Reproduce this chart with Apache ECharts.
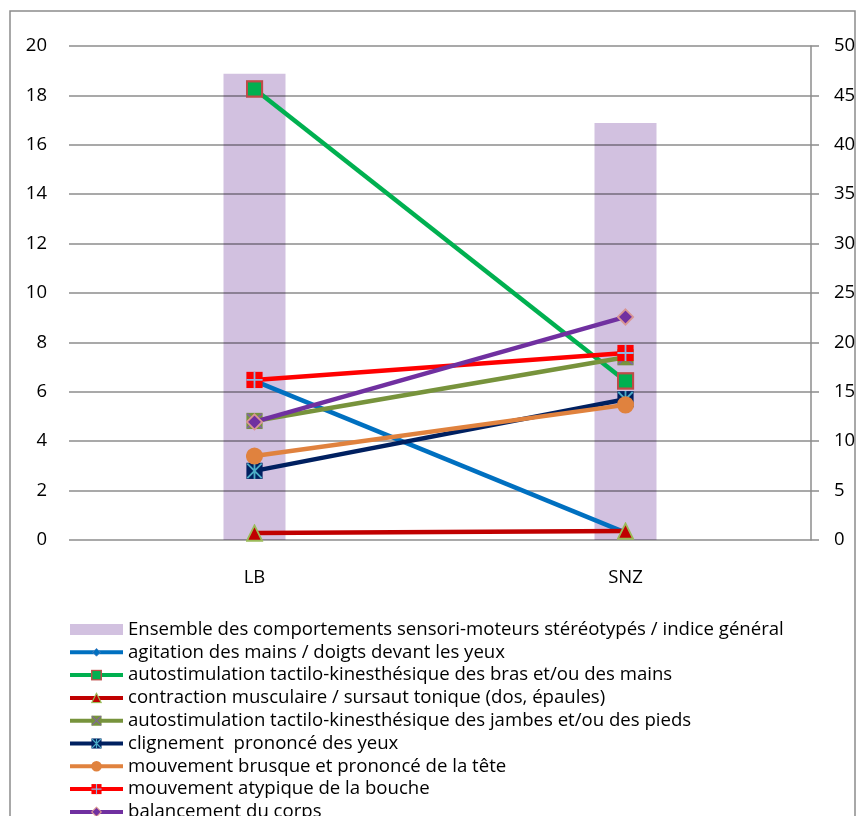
<!DOCTYPE html>
<html>
<head>
<meta charset="utf-8">
<script src="https://cdn.jsdelivr.net/npm/echarts@6/dist/echarts.min.js"></script>
<style>html,body{margin:0;padding:0;background:#fff}#c{width:861px;height:816px}</style>
</head>
<body>
<div id="c"></div>
<script>
const categories = ['LB', 'SNZ'];
const barName = 'Ensemble des comportements sensori-moteurs stéréotypés / indice général';
const barValues = [47.2, 42.2];
const leftTicks = [0, 20, 2];
const rightTicks = [0, 50, 5];

const agitation = [6.44, 0.3];
const brasMains = [18.26, 6.44];
const contraction = [0.28, 0.36];
const jambesPieds = [4.82, 7.4];
const clignement = [2.8, 5.7];
const teteMvt = [3.4, 5.47];
const boucheMvt = [6.48, 7.57];
const balancement = [4.78, 9.03];

const lineNames = [
  'agitation des mains / doigts devant les yeux',
  'autostimulation tactilo-kinesthésique des bras et/ou des mains',
  'contraction musculaire / sursaut tonique (dos, épaules)',
  'autostimulation tactilo-kinesthésique des jambes et/ou des pieds',
  'clignement  prononcé des yeux',
  'mouvement brusque et prononcé de la tête',
  'mouvement atypique de la bouche',
  'balancement du corps'
];
const lineData = [agitation, brasMains, contraction, jambesPieds, clignement, teteMvt, boucheMvt, balancement];
const lineColors = ['#0070C0', '#00B050', '#C00000', '#77933C', '#002060', '#E0823E', '#FF0000', '#7030A0'];

function svg(body) {
  return 'image://data:image/svg+xml;charset=utf-8,' + encodeURIComponent(
    "<svg xmlns='http://www.w3.org/2000/svg' width='20' height='20' viewBox='0 0 20 20'>" + body + "</svg>");
}
const markers = [
  svg("<polygon points='10,3 17,10 10,17 3,10' fill='#0070C0' stroke='#4F81BD' stroke-width='1.5'/>"),
  svg("<rect x='1.5' y='1.5' width='17' height='17' fill='#00B050' stroke='#BE4B48' stroke-width='2.5'/>"),
  svg("<polygon points='10,1.5 18.5,18.5 1.5,18.5' fill='#C00000' stroke='#9BBB59' stroke-width='2'/>"),
  svg("<rect x='1' y='1' width='18' height='18' fill='#77933C'/><path d='M2,2 L18,18 M18,2 L2,18' stroke='#8064A2' stroke-width='2'/>"),
  svg("<rect x='1' y='1' width='18' height='18' fill='#002060'/><path d='M2,2 L18,18 M18,2 L2,18 M10,1 L10,19' stroke='#4BACC6' stroke-width='2'/>"),
  svg("<circle cx='10' cy='10' r='9.5' fill='#E0823E'/>"),
  svg("<rect x='1' y='1' width='18' height='18' fill='#FF0000'/><path d='M10,1 L10,19 M1,10 L19,10' stroke='#8EB4E3' stroke-width='2'/>"),
  svg("<polygon points='10,1.5 18.5,10 10,18.5 1.5,10' fill='#7030A0' stroke='#D99694' stroke-width='2'/>")
];
const markerSizes = [12, 18, 18, 18, 18, 18, 18, 18];

const fontFam = '"Open Sans", "Liberation Sans", sans-serif';
const axisFont = { fontFamily: fontFam, fontSize: 18.5, color: '#000' };

const series = [{
  name: barName,
  type: 'bar',
  yAxisIndex: 1,
  data: barValues,
  barWidth: 62,
  z: 1,
  itemStyle: { color: '#D2C1E0' }
}];
lineNames.forEach((n, i) => {
  series.push({
    name: n,
    type: 'line',
    yAxisIndex: 0,
    data: lineData[i],
    z: 3 + i,
    symbol: markers[i],
    symbolSize: markerSizes[i],
    showAllSymbol: true,
    lineStyle: { color: lineColors[i], width: 4.5 },
    itemStyle: { color: lineColors[i] },
    emphasis: { disabled: true }
  });
});

const chart = echarts.init(document.getElementById('c'), null, { renderer: 'canvas' });
chart.setOption({
  animation: false,
  backgroundColor: '#fff',
  graphic: [{
    type: 'rect', shape: { x: 10, y: 11, width: 845, height: 820 },
    style: { fill: 'none', stroke: '#8c8c8c', lineWidth: 1.5 }, silent: true
  }],
  grid: { left: 69, right: 50, top: 46, bottom: 276, containLabel: false },
  xAxis: {
    type: 'category', data: categories, boundaryGap: true,
    axisLine: { show: false }, axisTick: { show: false },
    axisLabel: Object.assign({ margin: 28 }, axisFont)
  },
  yAxis: [{
    type: 'value', min: leftTicks[0], max: leftTicks[1], interval: leftTicks[2], z: 2,
    axisLine: { show: false }, axisTick: { show: false },
    axisLabel: Object.assign({ margin: 22 }, axisFont),
    splitLine: { show: true, lineStyle: { color: 'rgba(0,0,0,0.45)', width: 1.5 } }
  }, {
    type: 'value', min: rightTicks[0], max: rightTicks[1], interval: rightTicks[2], position: 'right', z: 2,
    axisLine: { show: true, lineStyle: { color: '#8c8c8c', width: 1.5 } },
    axisTick: { show: true, inside: false, length: 8, lineStyle: { color: '#8c8c8c', width: 1.5 } },
    axisLabel: Object.assign({ margin: 23 }, axisFont),
    splitLine: { show: false }
  }],
  legend: {
    orient: 'vertical', left: 63, top: 615, height: 400,
    itemWidth: 53, itemHeight: 14, itemGap: 3.8,
    lineStyle: { width: 4 },
    textStyle: { fontFamily: fontFam, fontSize: 18.6, color: '#000', lineHeight: 17.8 },
    data: [{ name: barName, icon: 'path://M0,0h53v11h-53z' }].concat(lineNames)
  },
  series: series
});
</script>
</body>
</html>
